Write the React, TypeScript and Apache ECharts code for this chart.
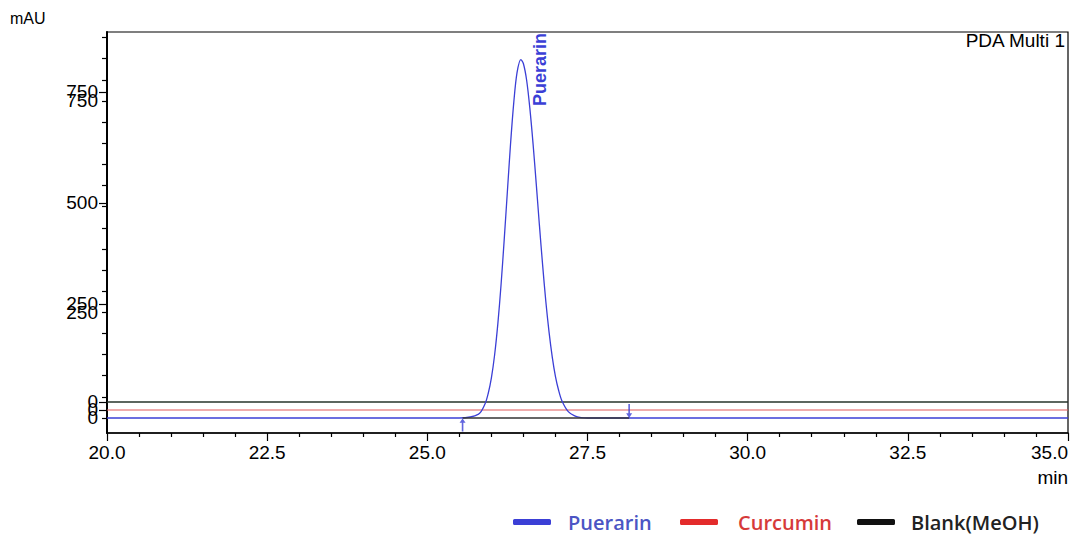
import React, { useEffect, useRef } from "react";
import * as echarts from "echarts";

// ---- data ----
const puerarinTimes = [20.0, 25.5, 25.8, 25.9, 25.95, 26.0, 26.05, 26.1, 26.15, 26.2, 26.25, 26.3, 26.35, 26.4, 26.46, 26.5, 26.55, 26.6, 26.65, 26.7, 26.75, 26.8, 26.85, 26.9, 26.95, 27.0, 27.05, 27.1, 27.2, 27.3, 27.4, 27.5, 35.0];
const puerarinValues = [0, 0, 9, 33, 58, 95, 149, 222, 314, 422, 537, 651, 748, 817, 848, 838, 799, 733, 649, 554, 455, 361, 275, 203, 144, 98, 65, 41, 15, 5, 1, 0, 0];
const curcuminTimes = [20.0, 35.0];
const curcuminValues = [0, 0];
const blankTimes = [20.0, 35.0];
const blankValues = [0, 0];
const integrationTimes = [25.55, 28.15];
const integrationValues = [0, 0];
const peakName = "Puerarin";
const peakTime = 26.46;
const peakValue = 848;
const seriesNames = ["Puerarin", "Curcumin", "Blank(MeOH)"];
const xTickMin = 20;
const xTickMax = 35;
const xTickStep = 2.5;
const yLabelsPuerarin = [0, 250, 750];
const yLabelsCurcumin = [0, 250, 750];
const yLabelsBlank = [0, 500];
const yMinorTicks = [0, 50, 100, 150, 200, 250, 300, 350, 400, 450, 500, 550, 600, 650, 700, 750, 800, 850, 900];

const BLUE = "#3b3fd6";
const RED = "#e32b2b";
const BLACK = "#111111";

const zip = (a: number[], b: number[]) => a.map((v, i) => [v, b[i]]);

export default function App() {
  const ref = useRef<HTMLDivElement>(null);
  useEffect(() => {
    if (!ref.current) return;
    const chart = echarts.init(ref.current, null, { renderer: "svg" });
    const font = "'Liberation Sans', Arial, sans-serif";
    const legendFont = "'Open Sans', 'Noto Sans', sans-serif";
    const yAxisBase = (min: number, max: number, labels: number[], ticks: number[], tickLen: number) => ({
      type: "value",
      position: "left",
      min,
      max,
      axisLine: { show: true, lineStyle: { color: "#000", width: 1.5 } },
      axisTick: { show: true, customValues: ticks, length: tickLen, lineStyle: { color: "#000", width: 1.2 } },
      axisLabel: { show: true, customValues: labels, color: "#000", fontSize: 19, fontFamily: font, margin: 9 },
      splitLine: { show: false },
    });
    const legendItem = (name: string, color: string, left: number, gap: number) => ({
      data: [{ name, textStyle: { color } }],
      left,
      top: 507,
      icon: "roundRect",
      itemWidth: 38,
      itemHeight: 6,
      textStyle: { fontSize: 20, fontWeight: 600, fontFamily: legendFont, padding: [0, 0, 0, gap] },
    });
    chart.setOption({
      animation: false,
      backgroundColor: "#fff",
      grid: { left: 107, right: 8, top: 32, bottom: 107, show: true, borderColor: "#000", borderWidth: 1.2, outerBoundsMode: "none", containLabel: false },
      legend: [
        legendItem(seriesNames[0], "#4b55c4", 508, 12),
        legendItem(seriesNames[1], "#d63a3a", 675, 15),
        legendItem(seriesNames[2], "#222", 852, 11),
      ],
      xAxis: {
        type: "value",
        min: xTickMin,
        max: xTickMax,
        interval: xTickStep,
        axisLine: { show: true, onZero: false, lineStyle: { color: "#000", width: 1.5 } },
        axisTick: { show: true, length: 8, lineStyle: { color: "#000", width: 1.2 } },
        minorTick: { show: true, splitNumber: 5, length: 4, lineStyle: { color: "#000", width: 1.2 } },
        axisLabel: { color: "#000", fontSize: 19, fontFamily: font, margin: 10, alignMaxLabel: "right", formatter: (v: number) => v.toFixed(1) },
        splitLine: { show: false },
      },
      yAxis: [
        yAxisBase(-35.49, 913.2, yLabelsPuerarin, yMinorTicks, 5),
        yAxisBase(-54.25, 891.5, yLabelsCurcumin, yLabelsCurcumin, 8),
        yAxisBase(-77.9, 929.6, yLabelsBlank, yLabelsBlank, 8),
      ],
      series: [
        {
          name: seriesNames[2],
          type: "line",
          yAxisIndex: 2,
          data: zip(blankTimes, blankValues),
          showSymbol: false,
          lineStyle: { color: "#26332a", width: 1.3 },
          itemStyle: { color: BLACK },
          z: 2,
        },
        {
          name: seriesNames[1],
          type: "line",
          yAxisIndex: 1,
          data: zip(curcuminTimes, curcuminValues),
          showSymbol: false,
          lineStyle: { color: "#e05a5a", width: 1.2 },
          itemStyle: { color: RED },
          z: 2,
        },
        {
          name: seriesNames[0],
          type: "line",
          yAxisIndex: 0,
          data: zip(puerarinTimes, puerarinValues),
          showSymbol: false,
          smooth: 0.3,
          lineStyle: { color: BLUE, width: 1.3 },
          itemStyle: { color: BLUE },
          z: 3,
        },
        {
          name: "baseline",
          type: "line",
          yAxisIndex: 0,
          data: zip(integrationTimes, integrationValues),
          showSymbol: false,
          lineStyle: { color: "#333", width: 1.3 },
          z: 4,
        },
        {
          name: "markers",
          type: "scatter",
          yAxisIndex: 0,
          symbol: "path://M-0.7,0 L0.7,0 L0.7,8 L2.6,8 L0,12 L-2.6,8 L-0.7,8 Z",
          symbolKeepAspect: false,
          data: [
            { value: [integrationTimes[0], integrationValues[0]], symbolRotate: 180, symbolSize: [6, 13], symbolOffset: [0, 7] },
            { value: [integrationTimes[1], integrationValues[1]], symbolRotate: 0, symbolSize: [6, 14], symbolOffset: [0, -7] },
          ],
          itemStyle: { color: BLUE },
          z: 5,
        },
      ],
    });
    const p = chart.convertToPixel({ xAxisIndex: 0, yAxisIndex: 0 }, [peakTime, peakValue]) as number[];
    chart.setOption({
      graphic: [
        {
          type: "text",
          x: p[0] + 19,
          y: p[1] + 10,
          rotation: Math.PI / 2,
          style: { text: peakName, fill: BLUE, fontSize: 18, fontWeight: "bold", fontFamily: font, align: "center", verticalAlign: "middle" },
        },
        { type: "text", left: 10, top: 10, style: { text: "mAU", fill: "#000", fontSize: 16, fontFamily: font } },
        { type: "text", right: 8, top: 468, style: { text: "min", fill: "#000", fontSize: 19, fontFamily: font } },
        { type: "text", right: 10, top: 31, style: { text: "PDA Multi 1", fill: "#000", fontSize: 19, fontFamily: font } },
      ],
    });
    return () => chart.dispose();
  }, []);
  return <div ref={ref} style={{ position: "absolute", left: 0, top: 0, width: 1076, height: 540 }} />;
}
